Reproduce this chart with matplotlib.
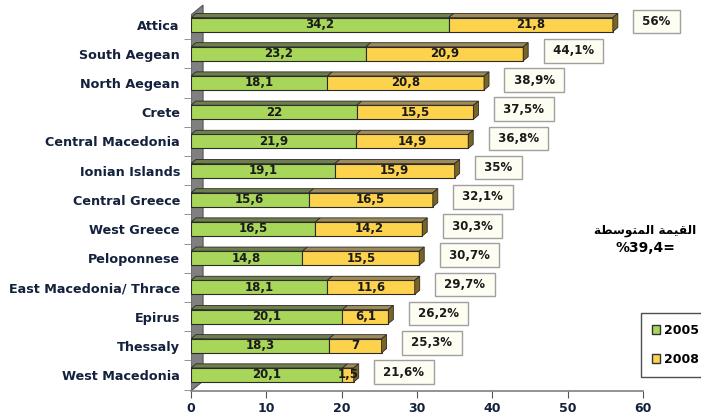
import matplotlib
matplotlib.use("Agg")
import matplotlib.pyplot as plt
from matplotlib.patches import Polygon, Patch

regions = ["West Macedonia", "Thessaly", "Epirus", "East Macedonia/ Thrace",
           "Peloponnese", "West Greece", "Central Greece", "Ionian Islands",
           "Central Macedonia", "Crete", "North Aegean", "South Aegean", "Attica"]
v2005 = [20.1, 18.3, 20.1, 18.1, 14.8, 16.5, 15.6, 19.1, 21.9, 22.0, 18.1, 23.2, 34.2]
v2008 = [1.5, 7.0, 6.1, 11.6, 15.5, 14.2, 16.5, 15.9, 14.9, 15.5, 20.8, 20.9, 21.8]
totals = ["21,6%", "25,3%", "26,2%", "29,7%", "30,7%", "30,3%", "32,1%",
          "35%", "36,8%", "37,5%", "38,9%", "44,1%", "56%"]
x_ticks = [0, 10, 20, 30, 40, 50, 60]


def fmt(v):
    return ("%g" % v).replace(".", ",")


# Arabic "القيمة المتوسطة" shaped by hand, reversed for left-to-right drawing
arabic = "\uFE8D\uFEDF\uFED8\uFEF4\uFEE4\uFE94 \uFE8D\uFEDF\uFEE4\uFE98\uFEEE\uFEB3\uFEC4\uFE94"
arabic_visual = arabic[::-1]

navy = "#14213d"
green, green_top = "#a8d65a", "#6f7f4c"
yellow, yellow_top, yellow_side = "#fdd34e", "#a08a58", "#7a6424"

fig = plt.figure(figsize=(7.01, 4.19), dpi=100)
ax = fig.add_axes([191 / 701, 28 / 419, 452 / 701, 388 / 419])
ax.set_xlim(0, 60)
ax.set_ylim(-0.55, 12.74)

dx, dy, h = 0.66, 0.14, 0.48

# left wall
ax.add_patch(Polygon([(0, -0.55), (0, 12.33), (1.6, 12.67), (1.6, -0.21)],
                     closed=True, facecolor="#808080", edgecolor="#555555",
                     linewidth=0.8, zorder=1))

for i in range(len(regions)):
    a, b = v2005[i], v2008[i]
    top = i + h / 2
    ax.barh(i, a, height=h, color=green, edgecolor="#2a2a2a", linewidth=0.8, zorder=3)
    ax.barh(i, b, left=a, height=h, color=yellow, edgecolor="#2a2a2a", linewidth=0.8, zorder=3)
    ax.add_patch(Polygon([(0, top), (a, top), (a + dx, top + dy), (dx, top + dy)],
                         closed=True, facecolor=green_top, edgecolor="#2a2a2a",
                         linewidth=0.6, zorder=3))
    ax.add_patch(Polygon([(a, top), (a + b, top), (a + b + dx, top + dy), (a + dx, top + dy)],
                         closed=True, facecolor=yellow_top, edgecolor="#2a2a2a",
                         linewidth=0.6, zorder=3))
    e = a + b
    ax.add_patch(Polygon([(e, i - h / 2), (e, top), (e + dx, top + dy), (e + dx, i - h / 2 + dy)],
                         closed=True, facecolor=yellow_side, edgecolor="#2a2a2a",
                         linewidth=0.6, zorder=3))
    ax.text(a / 2, i, fmt(a), ha="center", va="center", fontsize=8.5,
            fontweight="bold", color="#1a1a1a", zorder=4)
    ax.text(a + b / 2, i, fmt(b), ha="center", va="center", fontsize=8.5,
            fontweight="bold", color="#1a1a1a", zorder=4)
    ax.text(e + 3.4, i + 0.1, " " + totals[i] + " ", ha="left", va="center", fontsize=8.5,
            fontweight="bold", color="#1a1a1a", zorder=4,
            bbox=dict(boxstyle="square,pad=0.45", facecolor="#fdfdf2",
                      edgecolor="#a0a0a0", linewidth=1))

# axes styling
for s in ["top", "right", "left"]:
    ax.spines[s].set_visible(False)
ax.spines["bottom"].set_color("#808080")
ax.spines["bottom"].set_linewidth(1.2)
ax.set_xticks(x_ticks)
ax.tick_params(axis="x", length=5, color="#555555", labelsize=9, labelcolor=navy, pad=3)
for t in ax.get_xticklabels():
    t.set_fontweight("bold")
ax.set_yticks(range(len(regions)))
ax.set_yticklabels(regions, fontsize=9.2, fontweight="bold", color=navy)
ax.set_yticks([i + 0.5 for i in range(-1, len(regions) - 1)], minor=True)
ax.tick_params(axis="y", which="major", length=0, pad=8)
ax.tick_params(axis="y", which="minor", length=5, color="#808080")

fig.text(645 / 701, 1 - 230 / 419, arabic_visual, ha="center", va="center",
         fontsize=8.7, fontweight="bold", color="black")
fig.text(645 / 701, 1 - 248 / 419, "%39,4=", ha="center", va="center",
         fontsize=10, fontweight="bold", color="black")

handles = [Patch(facecolor=green, edgecolor="#333333", label="2005"),
           Patch(facecolor=yellow, edgecolor="#333333", label="2008")]
leg = fig.legend(handles=handles, loc="upper left", bbox_to_anchor=(641 / 701, 1 - 313 / 419),
                 borderaxespad=0, frameon=True, fancybox=False, handlelength=0.7,
                 handleheight=0.7, handletextpad=0.3, labelspacing=1.3, borderpad=0.85,
                 prop={"weight": "bold", "size": 9})
leg.get_frame().set_edgecolor("#222222")
leg.get_frame().set_linewidth(1)

fig.savefig("out.png", dpi=100)
